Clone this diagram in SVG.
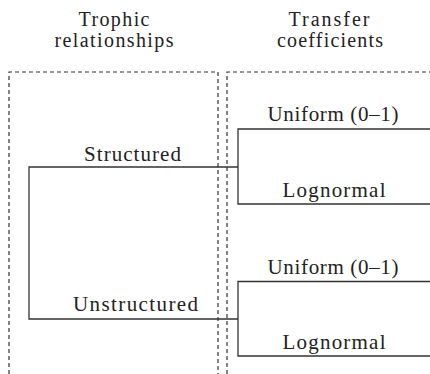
<svg xmlns="http://www.w3.org/2000/svg" width="430" height="374" viewBox="0 0 430 374">
<style>
text{fill:#222;text-anchor:middle}
.dash{fill:none;stroke:#333;stroke-width:1.2;stroke-dasharray:4 3}
.ln{fill:none;stroke:#333;stroke-width:1.3}
</style>
<rect width="430" height="374" fill="#fff"/>
<g font-family="Liberation Serif, DejaVu Serif, serif" font-size="20">
<g id="header-trophic">
<text x="114" y="25.5" textLength="71">Trophic</text>
<text x="114" y="46.5" textLength="119">relationships</text>
</g>
<g id="header-transfer">
<text x="329" y="25.5" textLength="81">Transfer</text>
<text x="330" y="46.5" textLength="106">coefficients</text>
</g>
</g>
<g id="panels">
<path class="dash" d="M9,374 V72 H218 V374"/>
<path class="dash" d="M227,374 V72 H430"/>
</g>
<g id="connectors">
<path class="ln" d="M238,167 H29 V319 H238"/>
<path class="ln" d="M430,129 H238 V204 H430"/>
<path class="ln" d="M430,281.5 H238 V356 H430"/>
</g>
<g font-family="Liberation Serif, DejaVu Serif, serif" font-size="21">
<g id="structured"><text x="132.5" y="161" textLength="97">Structured</text></g>
<g id="unstructured"><text x="135.5" y="311" textLength="125">Unstructured</text></g>
<g id="uniform-1"><text x="333" y="120.5" textLength="131">Uniform (0–1)</text></g>
<g id="lognormal-1"><text x="334" y="197" textLength="103">Lognormal</text></g>
<g id="uniform-2"><text x="333" y="274" textLength="131">Uniform (0–1)</text></g>
<g id="lognormal-2"><text x="334" y="349" textLength="103">Lognormal</text></g>
</g>
</svg>
